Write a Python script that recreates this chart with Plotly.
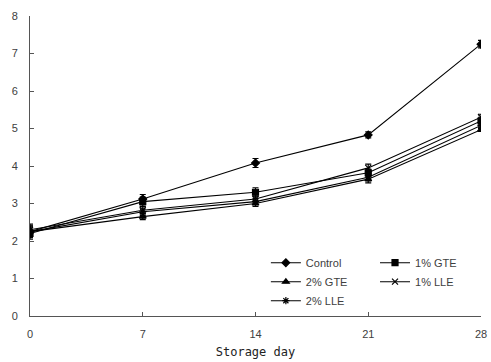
import plotly.graph_objects as go

days = [0, 7, 14, 21, 28]
control = [2.25, 3.12, 4.08, 4.83, 7.25]
gte1 = [2.2, 3.05, 3.3, 3.82, 5.2]
gte2 = [2.25, 2.65, 3.0, 3.65, 4.97]
lle1 = [2.3, 2.82, 3.12, 3.95, 5.3]
lle2 = [2.25, 2.78, 3.05, 3.7, 5.08]
control_err = [0.15, 0.12, 0.12, 0.08, 0.1]
gte1_err = [0.15, 0.12, 0.12, 0.1, 0.1]
gte2_err = [0.15, 0.08, 0.08, 0.1, 0.05]
lle1_err = [0.15, 0.1, 0.08, 0.1, 0.08]
lle2_err = [0.15, 0.1, 0.08, 0.1, 0.08]

names = ["Control", "1% GTE", "2% GTE", "1% LLE", "2% LLE"]
series = [control, gte1, gte2, lle1, lle2]
errs = [control_err, gte1_err, gte2_err, lle1_err, lle2_err]
symbols = ["diamond", "square", "triangle-up", "x-thin", "asterisk"]
legends = ["legend", "legend2", "legend", "legend2", "legend"]

fig = go.Figure()
for n, s, e, sym, lg in zip(names, series, errs, symbols, legends):
    fig.add_trace(go.Scatter(
        x=days, y=s, name=n, mode="lines+markers", legend=lg,
        line=dict(color="black", width=1.1),
        marker=dict(symbol=sym, size=6, color="black",
                    line=dict(color="black", width=1.2)),
        error_y=dict(type="data", array=e, visible=True, color="black",
                     thickness=1.1, width=3),
    ))

leg_common = dict(orientation="v", xanchor="left", yanchor="top",
                  bgcolor="rgba(0,0,0,0)", itemwidth=30, tracegroupgap=0,
                  font=dict(size=11, color="#404040"))
fig.update_layout(
    width=491, height=362,
    margin=dict(l=30, r=10, t=16, b=46, autoexpand=False),
    plot_bgcolor="white", paper_bgcolor="white",
    font=dict(family="Liberation Sans, Arial", size=11, color="#404040"),
    legend=dict(x=0.523, y=0.226, **leg_common),
    legend2=dict(x=0.765, y=0.226, **leg_common),
    showlegend=True,
)
fig.update_xaxes(range=[0, 28], tickvals=days, ticks="inside", ticklen=4,
                 tickcolor="#555", showline=True, linecolor="#555", linewidth=1,
                 showgrid=False, zeroline=False, ticklabelstandoff=8,
                 ticklabeloverflow="allow",
                 title=dict(text="Storage day", font=dict(family="DejaVu Sans Mono", size=12, color="#222"), standoff=8),
                 tickfont=dict(color="#404040"))
fig.update_yaxes(range=[0, 8], dtick=1, ticks="inside", ticklen=4,
                 tickcolor="#555", showline=True, linecolor="#555", linewidth=1,
                 showgrid=False, zeroline=False, ticklabelstandoff=9,
                 tickfont=dict(color="#404040"))

fig.write_html("out.html", config={"displayModeBar": False},
               post_script="document.body.style.margin='0';document.body.style.overflow='hidden';")
